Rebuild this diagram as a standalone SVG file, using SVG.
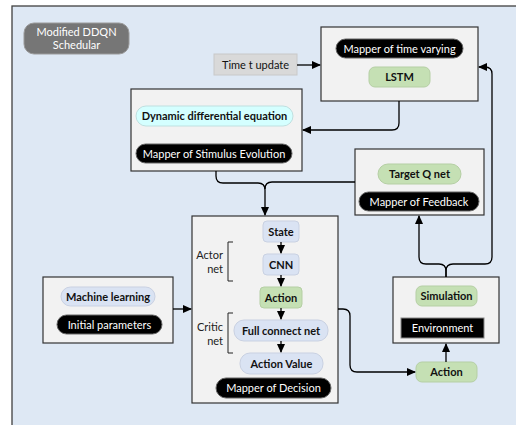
<svg xmlns="http://www.w3.org/2000/svg" width="516" height="425" viewBox="0 0 516 425">
<defs>
<marker id="ah" markerUnits="userSpaceOnUse" markerWidth="9" markerHeight="8" refX="8" refY="4" orient="auto">
<path d="M0,0 L9,4 L0,8 Z" fill="#000"/>
</marker>
<style>
.box{fill:#f2f2f2;stroke:#333;stroke-width:1.2}
.lav{fill:#dae3f3;stroke:#c9d1e2;stroke-width:1}
.grn{fill:#c5e0b4;stroke:#b5cfa4;stroke-width:1}
.cyn{fill:#d4ffff;stroke:#bfe0e0;stroke-width:1}
.blk{fill:#000;stroke:#666;stroke-width:1}
.t{font-family:Lato,"Liberation Sans",sans-serif;font-size:11px;text-anchor:middle}
.b{font-weight:bold;fill:#111}
.w{fill:#fff}
.lbl{font-family:Lato,"Liberation Sans",sans-serif;font-size:11px;fill:#222;text-anchor:end}
.c{fill:none;stroke:#000;stroke-width:1.3}
.br{fill:none;stroke:#222;stroke-width:1}
</style>
</defs>
<rect x="0" y="0" width="516" height="425" fill="#fff"/>
<rect x="12" y="6" width="520" height="430" fill="#dee8f4" stroke="#404040" stroke-width="1.3"/>

<g id="title">
<rect x="24" y="23" width="105" height="31" rx="10" fill="#767676" stroke="#9a9a9a"/>
<text class="t w" x="76.5" y="36">Modified DDQN</text>
<text class="t w" x="76.5" y="49">Schedular</text>
</g>

<g id="time-update">
<rect x="214" y="54" width="83" height="21" fill="#d9d9d9" stroke="#c8c8c8"/>
<text class="t" fill="#111" x="255.5" y="68.5">Time t update</text>
</g>

<g id="mapper-time">
<rect class="box" x="321" y="27" width="157" height="74"/>
<rect class="blk" x="336" y="39" width="127" height="19" rx="9.5"/>
<text class="t w" x="399.5" y="52.5">Mapper of time varying</text>
<rect class="grn" x="369" y="67" width="61" height="20" rx="6"/>
<text class="t b" x="399.5" y="81">LSTM</text>
</g>

<g id="stimulus">
<rect class="box" x="131" y="89" width="171" height="82"/>
<rect class="cyn" x="136" y="106" width="157" height="20" rx="10"/>
<text class="t b" x="214.5" y="120">Dynamic differential equation</text>
<rect class="blk" x="136" y="144" width="156" height="19" rx="9.5"/>
<text class="t w" x="214" y="157.5">Mapper of Stimulus Evolution</text>
</g>

<g id="feedback">
<rect class="box" x="355" y="149" width="129" height="66"/>
<rect class="grn" x="378" y="164" width="83" height="20" rx="10"/>
<text class="t b" x="419.5" y="178">Target Q net</text>
<rect class="blk" x="359" y="192" width="120" height="19" rx="9.5"/>
<text class="t w" x="419" y="205.5">Mapper of Feedback</text>
</g>

<g id="machine-learning">
<rect class="box" x="43" y="277" width="130" height="66"/>
<rect class="lav" x="61" y="287" width="94" height="19" rx="9.5"/>
<text class="t b" x="108" y="300.5">Machine learning</text>
<rect class="blk" x="57" y="315" width="105" height="19" rx="9.5"/>
<text class="t w" x="109.5" y="328.5">Initial parameters</text>
</g>

<g id="decision">
<rect class="box" x="192" y="216" width="146" height="187"/>
<rect class="lav" x="263" y="221" width="36" height="21" rx="4"/>
<text class="t b" x="281" y="235.5">State</text>
<rect class="lav" x="263" y="254" width="36" height="21" rx="4"/>
<text class="t b" x="281" y="268.5">CNN</text>
<rect class="grn" x="260" y="287" width="42" height="21" rx="4"/>
<text class="t b" x="281" y="301.5">Action</text>
<rect class="lav" x="234" y="320" width="94" height="21" rx="10"/>
<text class="t b" x="281" y="334.5">Full connect net</text>
<rect class="lav" x="240" y="353" width="83" height="21" rx="10"/>
<text class="t b" x="281.5" y="367.5">Action Value</text>
<rect class="blk" x="216" y="378" width="115" height="20" rx="10"/>
<text class="t w" x="273.5" y="392">Mapper of Decision</text>
<text class="lbl" x="223" y="259">Actor</text>
<text class="lbl" x="223" y="273">net</text>
<path class="br" d="M233,242 H228 V281 H233"/>
<text class="lbl" x="223" y="331">Critic</text>
<text class="lbl" x="223" y="345">net</text>
<path class="br" d="M233,313 H228 V353 H233"/>
</g>

<g id="simulation">
<rect class="box" x="393" y="277" width="106" height="66"/>
<rect class="grn" x="416" y="286" width="61" height="20" rx="6"/>
<text class="t b" x="446.5" y="300">Simulation</text>
<rect x="401" y="318" width="83" height="20" fill="#000" stroke="#888"/>
<text class="t w" x="442.5" y="332">Environment</text>
</g>

<g id="action-out">
<rect class="grn" x="416" y="362" width="61" height="20" rx="6"/>
<text class="t b" x="446.5" y="376">Action</text>
</g>

<g id="connectors">
<path class="c" d="M297,65 H320" marker-end="url(#ah)"/>
<path class="c" d="M399,101 V123 Q399,130 392,130 H303" marker-end="url(#ah)"/>
<path class="c" d="M446,277 V271 Q446,264 453,264 H485 Q492,264 492,257 V74 Q492,67 485,67 H479" marker-end="url(#ah)"/>
<path class="c" d="M446,277 V271 Q446,264 439,264 H426 Q419,264 419,257 V216" marker-end="url(#ah)"/>
<path class="c" d="M216,171 V176 Q216,183 223,183 H258 Q265,183 265,190 V215" marker-end="url(#ah)"/>
<path class="c" d="M355,182 H272 Q265,182 265,189"/>
<path class="c" d="M173,309 H191" marker-end="url(#ah)"/>
<path class="c" d="M338,309 H343 Q350,309 350,316 V365 Q350,372 357,372 H415" marker-end="url(#ah)"/>
<path class="c" d="M446,362 V344" marker-end="url(#ah)"/>
<path class="c" d="M281,242 V253" marker-end="url(#ah)"/>
<path class="c" d="M281,275 V286" marker-end="url(#ah)"/>
<path class="c" d="M281,308 V319" marker-end="url(#ah)"/>
<path class="c" d="M281,341 V352" marker-end="url(#ah)"/>
</g>
</svg>
